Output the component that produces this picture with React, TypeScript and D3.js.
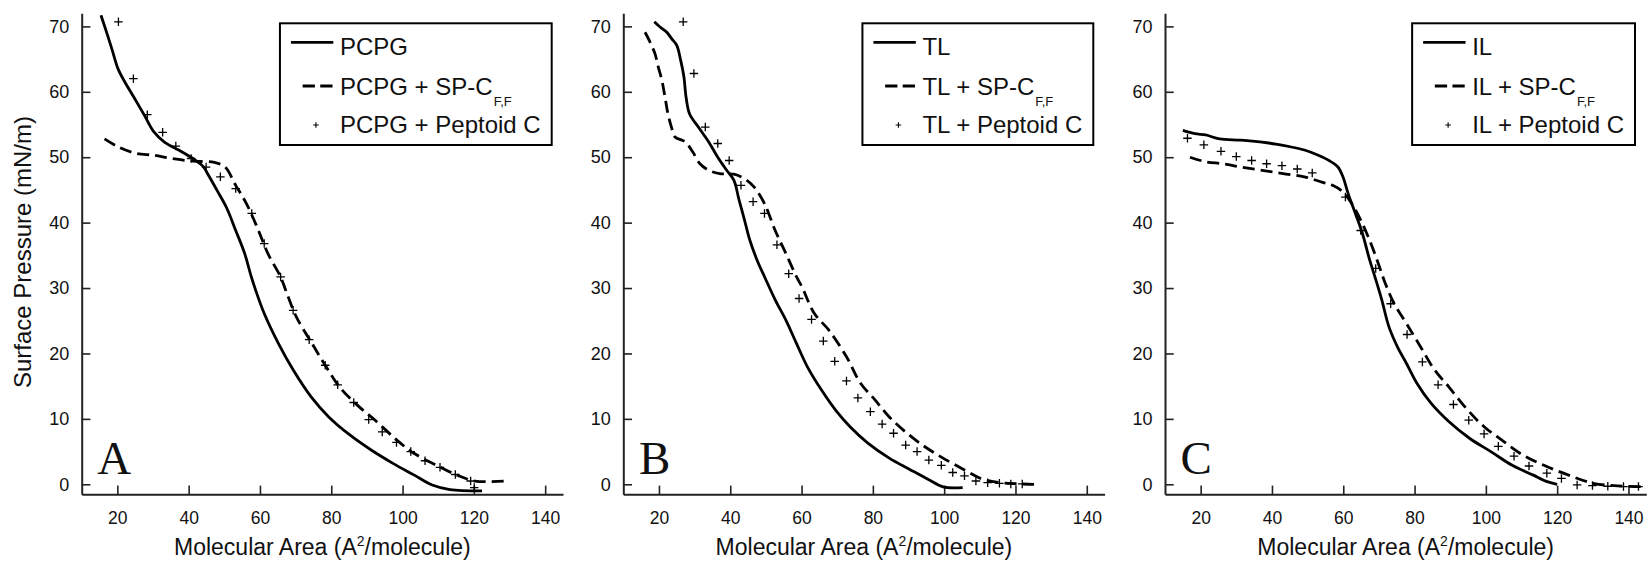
import React, { useEffect, useRef } from "react";
import * as d3 from "d3";

// ---------------- data (molecular area Å², surface pressure mN/m) ----------------
const pcpgPure: [number, number][] = [[15.4,71.7],[17.1,68.9],[18.6,66.3],[20.2,63.5],[22.1,61.5],[24.6,59.2],[27.6,56.4],[30.2,53.9],[33.2,52.3],[37.2,51.1],[41.2,49.8],[44.2,48.5],[45.4,47.4],[48.2,44.7],[50.7,42.2],[53.2,38.8],[55.7,35.3],[57.7,31.5],[61.2,26.1],[65.2,21.5],[69.3,17.5],[74.3,13.4],[79.3,10.3],[85.3,7.5],[91.3,5.2],[97.3,3.2],[103.3,1.4],[108.3,-0.1],[113.3,-0.8],[122.3,-1.0]];
const pcpgSpc: [number, number][] = [[16.4,52.8],[20.2,51.6],[25.2,50.6],[30.2,50.3],[35.2,49.8],[41.2,49.4],[47.2,49.2],[50.2,48.5],[53.2,45.7],[56.2,42.9],[59.2,39.3],[62.2,35.3],[65.8,31.7],[67.2,29.7],[70.2,25.6],[74.3,21.8],[78.3,18.2],[82.3,14.9],[87.3,12.1],[92.3,9.8],[98.3,6.8],[103.3,4.7],[110.3,2.7],[115.3,1.4],[120.3,0.5],[129.4,0.5]];
const pcpgPeptoid: [number, number][] = [[20.3,70.7],[24.5,62.0],[28.4,56.5],[32.7,53.8],[36.4,51.7],[40.7,49.8],[44.9,48.5],[48.9,47.0],[53.2,45.2],[57.7,41.4],[61.2,36.8],[65.8,31.7],[69.3,26.6],[73.8,22.1],[78.3,18.2],[81.8,15.2],[86.3,12.5],[90.5,9.9],[94.3,8.0],[98.3,6.4],[102.3,5.0],[106.3,3.6],[110.5,2.6],[114.8,1.5],[119.1,0.5],[120.1,-0.5]];

const tlPure: [number, number][] = [[18.7,70.7],[20.3,69.9],[22.2,69.1],[23.6,68.1],[25.0,67.1],[26.1,64.8],[27.0,62.3],[27.6,59.2],[28.6,56.6],[31.2,54.5],[34.0,52.3],[36.5,50.0],[39.0,48.0],[41.0,46.5],[42.5,43.4],[44.0,40.4],[45.5,37.3],[47.5,34.3],[49.8,31.5],[52.6,28.2],[55.6,25.1],[58.6,21.5],[61.6,18.0],[65.6,14.4],[69.6,11.3],[73.6,8.8],[78.6,6.3],[84.6,4.0],[90.6,2.2],[95.7,0.7],[99.7,-0.4],[105.2,-0.5]];
const tlSpc: [number, number][] = [[16.1,69.1],[17.5,67.6],[18.9,65.8],[19.8,63.8],[20.8,61.8],[21.7,59.2],[22.5,56.7],[23.5,54.6],[24.5,53.1],[26.5,52.6],[27.5,52.3],[29.5,50.8],[31.5,49.0],[34.0,48.0],[37.0,47.5],[41.0,47.4],[44.0,46.7],[46.6,45.5],[49.6,42.9],[52.6,38.8],[55.6,35.3],[58.6,31.7],[60.1,30.2],[63.6,26.1],[67.6,23.6],[72.6,19.5],[76.6,15.4],[80.6,12.9],[84.6,10.3],[89.6,7.8],[94.7,5.7],[99.7,4.0],[105.7,2.2],[110.7,0.8],[115.7,0.25],[125.2,0.0]];
const tlPeptoid: [number, number][] = [[26.8,70.7],[29.8,62.8],[33.0,54.6],[36.5,52.1],[39.7,49.5],[43.0,45.7],[46.4,43.2],[49.6,41.4],[53.1,36.6],[56.4,32.2],[59.3,28.4],[62.8,25.2],[66.1,21.9],[69.3,18.8],[72.6,15.8],[75.8,13.2],[79.3,11.1],[82.6,9.2],[85.8,7.8],[89.2,6.0],[92.4,5.0],[95.7,3.7],[99.2,2.9],[102.4,1.8],[105.7,1.3],[108.9,0.5],[112.2,0.25],[115.5,0.15],[118.7,0.05],[121.9,0.05]];

const ilPure: [number, number][] = [[15.0,54.1],[18.4,53.6],[21.4,53.4],[25.3,52.8],[31.3,52.6],[37.2,52.3],[41.1,52.0],[45.1,51.6],[49.1,51.1],[53.0,50.3],[56.0,49.5],[58.5,48.5],[59.9,47.0],[61.4,44.4],[63.4,41.4],[65.4,38.3],[67.4,34.3],[69.0,31.5],[70.8,28.2],[72.8,24.1],[75.2,21.0],[77.7,18.5],[80.7,15.4],[84.6,12.4],[89.6,9.6],[95.5,7.0],[101.4,5.0],[107.4,2.9],[113.3,1.4],[117.2,0.4],[120.0,0.0]];
const ilSpc: [number, number][] = [[17.0,50.0],[21.4,49.3],[26.3,49.0],[31.3,48.5],[37.2,48.0],[43.1,47.5],[49.1,47.0],[54.0,46.2],[57.0,45.7],[59.9,44.7],[62.4,42.9],[64.9,40.4],[67.4,37.3],[69.8,33.8],[71.8,30.7],[74.3,27.6],[77.7,24.6],[81.7,21.0],[85.6,17.5],[89.6,14.9],[94.5,11.6],[99.5,8.8],[104.4,6.8],[110.3,4.5],[116.3,2.9],[123.2,1.4],[130.1,0.15],[137.0,-0.25],[143.9,-0.35]];
const ilPeptoid: [number, number][] = [[16.3,52.9],[20.9,51.9],[25.7,50.9],[30.0,50.1],[34.3,49.5],[38.5,49.0],[42.8,48.7],[47.1,48.2],[51.3,47.6],[60.6,43.9],[64.9,38.8],[69.1,33.0],[73.3,27.6],[77.9,22.9],[82.2,18.7],[86.6,15.2],[90.9,12.2],[95.2,9.8],[99.5,7.7],[103.5,5.8],[107.9,4.3],[112.1,2.8],[117.1,1.7],[121.2,0.9],[125.6,-0.1],[129.9,-0.2],[134.2,-0.3],[138.6,-0.35],[142.8,-0.35]];

const lipidNames = ["PCPG", "TL", "IL"];
const panelLetters = ["A", "B", "C"];
const pureSeries = [pcpgPure, tlPure, ilPure];
const spcSeries = [pcpgSpc, tlSpc, ilSpc];
const peptoidSeries = [pcpgPeptoid, tlPeptoid, ilPeptoid];

const xMajorTicks = [20, 40, 60, 80, 100, 120, 140];
const yMajorTicks = [0, 10, 20, 30, 40, 50, 60, 70];
const xDomain: [number, number] = [10, 145];
const yDomain: [number, number] = [-1.53, 72];

const xAxisTitle = "Molecular Area (A";
const yAxisTitle = "Surface Pressure (mN/m)";

// ---------------- layout ----------------
const W = 1650;
const H = 561;
const panelLefts = [81.7, 623.3, 1165];
const plotW = 481.3;
const plotTop = 13.3;
const plotBottom = 494.3;
const SANS = "'Liberation Sans', Arial, Helvetica, sans-serif";
const SERIF = "'Liberation Serif', 'Times New Roman', serif";

export default function App() {
  const ref = useRef<SVGSVGElement | null>(null);

  useEffect(() => {
    const svg = d3.select(ref.current);
    svg.selectAll("*").remove();
    svg.append("rect").attr("width", W).attr("height", H).attr("fill", "#fff");

    const y = d3.scaleLinear().domain(yDomain).range([plotBottom, plotTop]);

    lipidNames.forEach((name, i) => {
      const left = panelLefts[i];
      const x = d3.scaleLinear().domain(xDomain).range([left, left + plotW]);
      const g = svg.append("g");

      // minor ticks x
      const xMinor = d3.range(15, 146, 5).filter((v) => v % 20 !== 0);
      const yMinor = d3.range(2, 73, 2).filter((v) => v % 10 !== 0);

      const gx = g.append("g").attr("transform", `translate(0,${plotBottom})`);
      gx.call(
        d3.axisBottom(x).tickValues(xMinor).tickSize(-4.5).tickSizeOuter(0).tickFormat(() => "")
      );
      gx.call(
        d3.axisBottom(x).tickValues(xMajorTicks).tickSize(-8.7).tickSizeOuter(0).tickPadding(17)
      );
      const gy = g.append("g").attr("transform", `translate(${left},0)`);
      gy.call(
        d3.axisLeft(y).tickValues(yMinor).tickSize(-4.5).tickSizeOuter(0).tickFormat(() => "")
      );
      gy.call(
        d3.axisLeft(y).tickValues(yMajorTicks).tickSize(-8.7).tickSizeOuter(0).tickPadding(12.5)
      );
      [gx, gy].forEach((ax) => {
        ax.selectAll(".domain").attr("stroke", "#222").attr("stroke-width", 2);
        ax.selectAll(".tick line").attr("stroke", "#222").attr("stroke-width", 1.6);
        ax.selectAll("text").attr("font-family", SANS).attr("fill", "#111");
      });
      gx.selectAll("text").attr("font-size", 17.5);
      gy.selectAll("text").attr("font-size", 18);

      // panel letter
      g.append("text")
        .attr("x", left + 15.6)
        .attr("y", 474)
        .attr("font-family", SERIF)
        .attr("font-size", 47)
        .attr("fill", "#111")
        .text(panelLetters[i]);

      // x axis title
      const xt = g
        .append("text")
        .attr("x", left + plotW / 2)
        .attr("y", 555)
        .attr("text-anchor", "middle")
        .attr("font-family", SANS)
        .attr("font-size", 23)
        .attr("fill", "#111");
      xt.append("tspan").text(xAxisTitle);
      xt.append("tspan").attr("font-size", 14).attr("dy", -9).text("2");
      xt.append("tspan").attr("dy", 9).text("/molecule)");

      if (i === 0) {
        g.append("text")
          .attr("transform", `translate(31,252) rotate(-90)`)
          .attr("text-anchor", "middle")
          .attr("font-family", SANS)
          .attr("font-size", 24)
          .attr("fill", "#111")
          .text(yAxisTitle);
      }

      // curves
      const line = d3
        .line<[number, number]>()
        .x((d) => x(d[0]))
        .y((d) => y(d[1]))
        .curve(d3.curveCatmullRom.alpha(0.5));

      g.append("path")
        .datum(pureSeries[i])
        .attr("d", line)
        .attr("fill", "none")
        .attr("stroke", "#000")
        .attr("stroke-width", 2.8)
        .attr("stroke-linejoin", "round");

      g.append("path")
        .datum(spcSeries[i])
        .attr("d", line)
        .attr("fill", "none")
        .attr("stroke", "#000")
        .attr("stroke-width", 2.8)
        .attr("stroke-dasharray", "12,6");

      const plus = (cx: number, cy: number, s: number) =>
        `M${cx - s / 2},${cy}h${s}M${cx},${cy - s / 2}v${s}`;

      g.append("g")
        .selectAll("path")
        .data(peptoidSeries[i])
        .join("path")
        .attr("d", (d) => plus(x(d[0]), y(d[1]), 8.5))
        .attr("stroke", "#000")
        .attr("stroke-width", 1.3)
        .attr("fill", "none");

      // legend
      const right = left + 470;
      const lg = g.append("g");
      const box = lg.append("rect");
      const tg = lg.append("g");
      const baselines = [55, 95, 132.7];
      tg.append("text").attr("y", baselines[0]).text(name);
      const t2 = tg.append("text").attr("y", baselines[1]);
      t2.append("tspan").text(`${name} + SP-C`);
      t2.append("tspan").attr("font-size", 13).attr("dy", 10.7).attr("dx", 1).text("F,F");
      tg.append("text").attr("y", baselines[2]).text(`${name} + Peptoid C`);
      tg.selectAll("text").attr("font-family", SANS).attr("font-size", 24).attr("fill", "#111");
      const tw = (tg.node() as SVGGElement).getBBox().width;
      const boxLeft = right - 11 - tw - 60;
      tg.attr("transform", `translate(${boxLeft + 60},0)`);
      box
        .attr("x", boxLeft)
        .attr("y", 23.3)
        .attr("width", right - boxLeft)
        .attr("height", 145 - 23.3)
        .attr("fill", "#fff")
        .attr("stroke", "#000")
        .attr("stroke-width", 2);
      lg.append("line")
        .attr("x1", boxLeft + 11)
        .attr("x2", boxLeft + 53.4)
        .attr("y1", 42.3)
        .attr("y2", 42.3)
        .attr("stroke", "#000")
        .attr("stroke-width", 2.8);
      lg.append("line")
        .attr("x1", boxLeft + 22.7)
        .attr("x2", boxLeft + 53.4)
        .attr("y1", 86)
        .attr("y2", 86)
        .attr("stroke", "#000")
        .attr("stroke-width", 2.8)
        .attr("stroke-dasharray", "12.3,5.3");
      lg.append("path")
        .attr("d", plus(boxLeft + 36, 125, 5.5))
        .attr("stroke", "#000")
        .attr("stroke-width", 1.1);
    });
  }, []);

  return (
    <svg
      ref={ref}
      width={W}
      height={H}
      style={{ position: "absolute", left: 0, top: 0, display: "block" }}
    />
  );
}
